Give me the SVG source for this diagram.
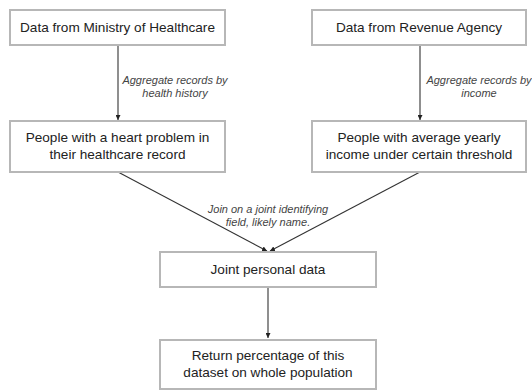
<svg xmlns="http://www.w3.org/2000/svg" width="532" height="391" viewBox="0 0 532 391">
<style>
.box{fill:#fff;stroke:#b7b7b7;stroke-width:2}
.t{font-family:"Liberation Sans",Arial,sans-serif;font-size:13.6px;fill:#222;text-anchor:middle}
.l{font-family:"Liberation Sans",Arial,sans-serif;font-size:11px;font-style:italic;fill:#444;text-anchor:middle}
.c{stroke:#333;stroke-width:1.1;fill:none;marker-end:url(#ah)}
</style>
<defs>
<marker id="ah" viewBox="0 0 8 8" refX="8" refY="4" markerWidth="5" markerHeight="5" orient="auto" markerUnits="userSpaceOnUse">
<path d="M0,0 L8,4 L0,8 z" fill="#222"/>
</marker>
</defs>
<rect width="532" height="391" fill="#fff"/>
<g id="connectors">
<line class="c" x1="118" y1="45" x2="118" y2="120"/>
<line class="c" x1="420" y1="45" x2="420" y2="120"/>
<line class="c" x1="118" y1="172" x2="267" y2="251"/>
<line class="c" x1="420" y1="172" x2="270" y2="251"/>
<line class="c" x1="268" y1="288" x2="268" y2="338"/>
<text class="l" x="175" y="84">Aggregate records by</text>
<text class="l" x="175" y="97">health history</text>
<text class="l" x="479" y="84">Aggregate records by</text>
<text class="l" x="479" y="97">income</text>
<text class="l" x="268" y="213">Join on a joint identifying</text>
<text class="l" x="268" y="226">field, likely name.</text>
</g>
<g id="n1">
<rect class="box" x="10" y="10" width="215" height="35"/>
<text class="t" x="117.5" y="32">Data from Ministry of Healthcare</text>
</g>
<g id="n2">
<rect class="box" x="312" y="10" width="214" height="35"/>
<text class="t" x="419" y="32">Data from Revenue Agency</text>
</g>
<g id="n3">
<rect class="box" x="10" y="121" width="215" height="51"/>
<text class="t" x="117.5" y="142">People with a heart problem in</text>
<text class="t" x="117.5" y="159">their healthcare record</text>
</g>
<g id="n4">
<rect class="box" x="312" y="121" width="214" height="51"/>
<text class="t" x="419" y="142">People with average yearly</text>
<text class="t" x="419" y="159">income under certain threshold</text>
</g>
<g id="n5">
<rect class="box" x="160" y="252" width="216" height="35"/>
<text class="t" x="268" y="274">Joint personal data</text>
</g>
<g id="n6">
<rect class="box" x="160" y="340" width="216" height="49"/>
<text class="t" x="268" y="360">Return percentage of this</text>
<text class="t" x="268" y="377">dataset on whole population</text>
</g>
</svg>
